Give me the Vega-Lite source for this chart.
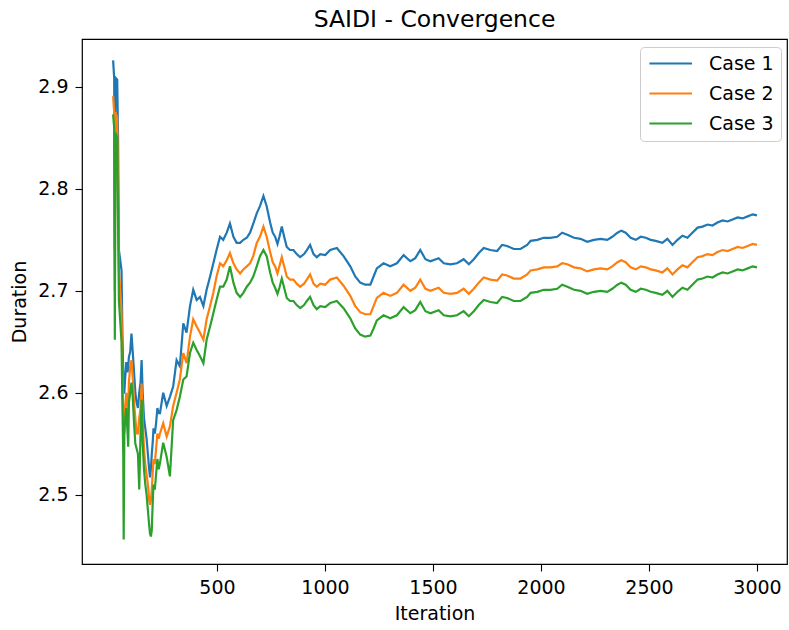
{
  "$schema": "https://vega.github.io/schema/vega-lite/v6.json",
  "width": 705,
  "height": 525,
  "autosize": {"type": "none"},
  "padding": {"left": 82, "top": 39, "right": 2, "bottom": 66},
  "background": "white",
  "config": {
    "font": "DejaVu Sans",
    "view": {"stroke": "#000000", "strokeWidth": 1.2},
    "axis": {"domain": false, "grid": false, "tickColor": "#000000", "tickSize": 7, "tickWidth": 1.1, "labelColor": "#000000", "titleColor": "#000000", "labelFontSize": 19, "titleFontSize": 19, "titleFontWeight": "normal", "labelPadding": 7, "labelFont": "DejaVu Sans", "titleFont": "DejaVu Sans"}
  },
  "title": {"text": "SAIDI - Convergence", "fontSize": 23.5, "fontWeight": "normal", "font": "DejaVu Sans", "color": "#000000", "anchor": "middle", "baseline": "alphabetic", "offset": 0, "dy": 11.2},
  "data": {
    "values": [
      {"i": 19, "Case 1": 2.926, "Case 2": 2.891, "Case 3": 2.873},
      {"i": 24, "Case 1": 2.909, "Case 2": 2.875, "Case 3": 2.860},
      {"i": 27, "Case 1": 2.740, "Case 2": 2.700, "Case 3": 2.652},
      {"i": 30, "Case 1": 2.909, "Case 2": 2.875, "Case 3": 2.855},
      {"i": 38, "Case 1": 2.907, "Case 2": 2.870, "Case 3": 2.850},
      {"i": 42, "Case 1": 2.850, "Case 2": 2.800, "Case 3": 2.770},
      {"i": 46, "Case 1": 2.740, "Case 2": 2.720, "Case 3": 2.690},
      {"i": 52, "Case 1": 2.730, "Case 2": 2.700, "Case 3": 2.670},
      {"i": 58, "Case 1": 2.720, "Case 2": 2.680, "Case 3": 2.650},
      {"i": 62, "Case 1": 2.660, "Case 2": 2.620, "Case 3": 2.590},
      {"i": 66, "Case 1": 2.620, "Case 2": 2.580, "Case 3": 2.540},
      {"i": 68, "Case 1": 2.600, "Case 2": 2.570, "Case 3": 2.456},
      {"i": 71, "Case 1": 2.600, "Case 2": 2.560, "Case 3": 2.560},
      {"i": 75, "Case 1": 2.615, "Case 2": 2.585, "Case 3": 2.575},
      {"i": 80, "Case 1": 2.630, "Case 2": 2.600, "Case 3": 2.585},
      {"i": 86, "Case 1": 2.620, "Case 2": 2.585, "Case 3": 2.560},
      {"i": 89, "Case 1": 2.625, "Case 2": 2.577, "Case 3": 2.547},
      {"i": 92, "Case 1": 2.635, "Case 2": 2.610, "Case 3": 2.590},
      {"i": 98, "Case 1": 2.640, "Case 2": 2.625, "Case 3": 2.600},
      {"i": 104, "Case 1": 2.658, "Case 2": 2.632, "Case 3": 2.610},
      {"i": 110, "Case 1": 2.640, "Case 2": 2.615, "Case 3": 2.595},
      {"i": 116, "Case 1": 2.620, "Case 2": 2.590, "Case 3": 2.570},
      {"i": 122, "Case 1": 2.600, "Case 2": 2.575, "Case 3": 2.550},
      {"i": 128, "Case 1": 2.590, "Case 2": 2.560, "Case 3": 2.545},
      {"i": 134, "Case 1": 2.585, "Case 2": 2.560, "Case 3": 2.540},
      {"i": 140, "Case 1": 2.600, "Case 2": 2.575, "Case 3": 2.505},
      {"i": 146, "Case 1": 2.610, "Case 2": 2.585, "Case 3": 2.560},
      {"i": 151, "Case 1": 2.632, "Case 2": 2.609, "Case 3": 2.593},
      {"i": 156, "Case 1": 2.600, "Case 2": 2.575, "Case 3": 2.550},
      {"i": 162, "Case 1": 2.575, "Case 2": 2.545, "Case 3": 2.525},
      {"i": 168, "Case 1": 2.565, "Case 2": 2.530, "Case 3": 2.510},
      {"i": 174, "Case 1": 2.555, "Case 2": 2.520, "Case 3": 2.500},
      {"i": 180, "Case 1": 2.540, "Case 2": 2.510, "Case 3": 2.485},
      {"i": 186, "Case 1": 2.525, "Case 2": 2.495, "Case 3": 2.470},
      {"i": 190, "Case 1": 2.517, "Case 2": 2.490, "Case 3": 2.462},
      {"i": 194, "Case 1": 2.525, "Case 2": 2.495, "Case 3": 2.459},
      {"i": 198, "Case 1": 2.540, "Case 2": 2.505, "Case 3": 2.465},
      {"i": 202, "Case 1": 2.550, "Case 2": 2.520, "Case 3": 2.490},
      {"i": 206, "Case 1": 2.565, "Case 2": 2.535, "Case 3": 2.510},
      {"i": 212, "Case 1": 2.560, "Case 2": 2.530, "Case 3": 2.505},
      {"i": 218, "Case 1": 2.570, "Case 2": 2.545, "Case 3": 2.520},
      {"i": 224, "Case 1": 2.585, "Case 2": 2.560, "Case 3": 2.535},
      {"i": 230, "Case 1": 2.580, "Case 2": 2.555, "Case 3": 2.525},
      {"i": 236, "Case 1": 2.580, "Case 2": 2.560, "Case 3": 2.531},
      {"i": 251, "Case 1": 2.600, "Case 2": 2.570, "Case 3": 2.551},
      {"i": 267, "Case 1": 2.587, "Case 2": 2.557, "Case 3": 2.537},
      {"i": 282, "Case 1": 2.596, "Case 2": 2.567, "Case 3": 2.518},
      {"i": 297, "Case 1": 2.606, "Case 2": 2.587, "Case 3": 2.573},
      {"i": 313, "Case 1": 2.632, "Case 2": 2.600, "Case 3": 2.583},
      {"i": 328, "Case 1": 2.626, "Case 2": 2.613, "Case 3": 2.596},
      {"i": 344, "Case 1": 2.668, "Case 2": 2.639, "Case 3": 2.613},
      {"i": 359, "Case 1": 2.659, "Case 2": 2.629, "Case 3": 2.616},
      {"i": 375, "Case 1": 2.685, "Case 2": 2.655, "Case 3": 2.639},
      {"i": 390, "Case 1": 2.701, "Case 2": 2.672, "Case 3": 2.649},
      {"i": 406, "Case 1": 2.691, "Case 2": 2.665, "Case 3": 2.642},
      {"i": 421, "Case 1": 2.694, "Case 2": 2.659, "Case 3": 2.636},
      {"i": 437, "Case 1": 2.685, "Case 2": 2.652, "Case 3": 2.629},
      {"i": 452, "Case 1": 2.701, "Case 2": 2.672, "Case 3": 2.652},
      {"i": 468, "Case 1": 2.714, "Case 2": 2.685, "Case 3": 2.665},
      {"i": 483, "Case 1": 2.727, "Case 2": 2.698, "Case 3": 2.678},
      {"i": 498, "Case 1": 2.740, "Case 2": 2.714, "Case 3": 2.691},
      {"i": 514, "Case 1": 2.753, "Case 2": 2.727, "Case 3": 2.704},
      {"i": 529, "Case 1": 2.750, "Case 2": 2.724, "Case 3": 2.704},
      {"i": 545, "Case 1": 2.757, "Case 2": 2.730, "Case 3": 2.711},
      {"i": 560, "Case 1": 2.766, "Case 2": 2.737, "Case 3": 2.724},
      {"i": 576, "Case 1": 2.753, "Case 2": 2.727, "Case 3": 2.708},
      {"i": 591, "Case 1": 2.747, "Case 2": 2.721, "Case 3": 2.698},
      {"i": 607, "Case 1": 2.747, "Case 2": 2.717, "Case 3": 2.694},
      {"i": 622, "Case 1": 2.750, "Case 2": 2.721, "Case 3": 2.698},
      {"i": 638, "Case 1": 2.752, "Case 2": 2.724, "Case 3": 2.704},
      {"i": 653, "Case 1": 2.757, "Case 2": 2.727, "Case 3": 2.708},
      {"i": 668, "Case 1": 2.766, "Case 2": 2.734, "Case 3": 2.714},
      {"i": 684, "Case 1": 2.776, "Case 2": 2.747, "Case 3": 2.724},
      {"i": 699, "Case 1": 2.783, "Case 2": 2.753, "Case 3": 2.734},
      {"i": 715, "Case 1": 2.793, "Case 2": 2.763, "Case 3": 2.740},
      {"i": 730, "Case 1": 2.783, "Case 2": 2.753, "Case 3": 2.734},
      {"i": 746, "Case 1": 2.767, "Case 2": 2.738, "Case 3": 2.718},
      {"i": 758, "Case 1": 2.757, "Case 2": 2.728, "Case 3": 2.708},
      {"i": 769, "Case 1": 2.753, "Case 2": 2.724, "Case 3": 2.703},
      {"i": 780, "Case 1": 2.746, "Case 2": 2.717, "Case 3": 2.697},
      {"i": 789, "Case 1": 2.753, "Case 2": 2.724, "Case 3": 2.703},
      {"i": 800, "Case 1": 2.763, "Case 2": 2.733, "Case 3": 2.712},
      {"i": 811, "Case 1": 2.753, "Case 2": 2.724, "Case 3": 2.703},
      {"i": 823, "Case 1": 2.743, "Case 2": 2.714, "Case 3": 2.693},
      {"i": 838, "Case 1": 2.740, "Case 2": 2.711, "Case 3": 2.690},
      {"i": 854, "Case 1": 2.740, "Case 2": 2.711, "Case 3": 2.690},
      {"i": 869, "Case 1": 2.736, "Case 2": 2.707, "Case 3": 2.686},
      {"i": 885, "Case 1": 2.733, "Case 2": 2.704, "Case 3": 2.683},
      {"i": 903, "Case 1": 2.736, "Case 2": 2.707, "Case 3": 2.686},
      {"i": 916, "Case 1": 2.740, "Case 2": 2.711, "Case 3": 2.690},
      {"i": 931, "Case 1": 2.745, "Case 2": 2.716, "Case 3": 2.694},
      {"i": 947, "Case 1": 2.736, "Case 2": 2.707, "Case 3": 2.686},
      {"i": 962, "Case 1": 2.733, "Case 2": 2.704, "Case 3": 2.682},
      {"i": 978, "Case 1": 2.736, "Case 2": 2.707, "Case 3": 2.685},
      {"i": 1001, "Case 1": 2.735, "Case 2": 2.706, "Case 3": 2.684},
      {"i": 1024, "Case 1": 2.740, "Case 2": 2.711, "Case 3": 2.688},
      {"i": 1055, "Case 1": 2.742, "Case 2": 2.713, "Case 3": 2.690},
      {"i": 1086, "Case 1": 2.734, "Case 2": 2.705, "Case 3": 2.683},
      {"i": 1117, "Case 1": 2.724, "Case 2": 2.695, "Case 3": 2.673},
      {"i": 1140, "Case 1": 2.714, "Case 2": 2.685, "Case 3": 2.663},
      {"i": 1163, "Case 1": 2.708, "Case 2": 2.679, "Case 3": 2.657},
      {"i": 1186, "Case 1": 2.706, "Case 2": 2.677, "Case 3": 2.655},
      {"i": 1210, "Case 1": 2.706, "Case 2": 2.677, "Case 3": 2.656},
      {"i": 1225, "Case 1": 2.714, "Case 2": 2.685, "Case 3": 2.663},
      {"i": 1240, "Case 1": 2.722, "Case 2": 2.693, "Case 3": 2.671},
      {"i": 1271, "Case 1": 2.727, "Case 2": 2.698, "Case 3": 2.676},
      {"i": 1302, "Case 1": 2.724, "Case 2": 2.695, "Case 3": 2.673},
      {"i": 1333, "Case 1": 2.727, "Case 2": 2.698, "Case 3": 2.676},
      {"i": 1364, "Case 1": 2.735, "Case 2": 2.706, "Case 3": 2.684},
      {"i": 1395, "Case 1": 2.729, "Case 2": 2.700, "Case 3": 2.678},
      {"i": 1418, "Case 1": 2.732, "Case 2": 2.703, "Case 3": 2.681},
      {"i": 1441, "Case 1": 2.740, "Case 2": 2.711, "Case 3": 2.689},
      {"i": 1465, "Case 1": 2.731, "Case 2": 2.702, "Case 3": 2.680},
      {"i": 1488, "Case 1": 2.729, "Case 2": 2.700, "Case 3": 2.678},
      {"i": 1526, "Case 1": 2.732, "Case 2": 2.703, "Case 3": 2.681},
      {"i": 1550, "Case 1": 2.727, "Case 2": 2.698, "Case 3": 2.676},
      {"i": 1581, "Case 1": 2.726, "Case 2": 2.697, "Case 3": 2.675},
      {"i": 1611, "Case 1": 2.727, "Case 2": 2.698, "Case 3": 2.676},
      {"i": 1642, "Case 1": 2.731, "Case 2": 2.702, "Case 3": 2.680},
      {"i": 1666, "Case 1": 2.726, "Case 2": 2.697, "Case 3": 2.675},
      {"i": 1689, "Case 1": 2.731, "Case 2": 2.702, "Case 3": 2.680},
      {"i": 1712, "Case 1": 2.737, "Case 2": 2.708, "Case 3": 2.686},
      {"i": 1735, "Case 1": 2.742, "Case 2": 2.713, "Case 3": 2.691},
      {"i": 1766, "Case 1": 2.740, "Case 2": 2.711, "Case 3": 2.689},
      {"i": 1797, "Case 1": 2.739, "Case 2": 2.710, "Case 3": 2.688},
      {"i": 1820, "Case 1": 2.745, "Case 2": 2.716, "Case 3": 2.694},
      {"i": 1843, "Case 1": 2.744, "Case 2": 2.715, "Case 3": 2.693},
      {"i": 1874, "Case 1": 2.741, "Case 2": 2.712, "Case 3": 2.690},
      {"i": 1905, "Case 1": 2.741, "Case 2": 2.712, "Case 3": 2.690},
      {"i": 1936, "Case 1": 2.745, "Case 2": 2.716, "Case 3": 2.694},
      {"i": 1952, "Case 1": 2.749, "Case 2": 2.720, "Case 3": 2.698},
      {"i": 1983, "Case 1": 2.750, "Case 2": 2.721, "Case 3": 2.699},
      {"i": 2013, "Case 1": 2.752, "Case 2": 2.723, "Case 3": 2.701},
      {"i": 2044, "Case 1": 2.752, "Case 2": 2.723, "Case 3": 2.701},
      {"i": 2075, "Case 1": 2.753, "Case 2": 2.724, "Case 3": 2.702},
      {"i": 2098, "Case 1": 2.757, "Case 2": 2.727, "Case 3": 2.706},
      {"i": 2122, "Case 1": 2.755, "Case 2": 2.726, "Case 3": 2.704},
      {"i": 2153, "Case 1": 2.752, "Case 2": 2.723, "Case 3": 2.701},
      {"i": 2183, "Case 1": 2.751, "Case 2": 2.722, "Case 3": 2.700},
      {"i": 2214, "Case 1": 2.748, "Case 2": 2.719, "Case 3": 2.697},
      {"i": 2245, "Case 1": 2.750, "Case 2": 2.721, "Case 3": 2.699},
      {"i": 2276, "Case 1": 2.751, "Case 2": 2.722, "Case 3": 2.700},
      {"i": 2307, "Case 1": 2.750, "Case 2": 2.721, "Case 3": 2.699},
      {"i": 2330, "Case 1": 2.753, "Case 2": 2.724, "Case 3": 2.702},
      {"i": 2354, "Case 1": 2.757, "Case 2": 2.728, "Case 3": 2.706},
      {"i": 2372, "Case 1": 2.759, "Case 2": 2.730, "Case 3": 2.708},
      {"i": 2392, "Case 1": 2.757, "Case 2": 2.728, "Case 3": 2.706},
      {"i": 2415, "Case 1": 2.752, "Case 2": 2.723, "Case 3": 2.701},
      {"i": 2439, "Case 1": 2.750, "Case 2": 2.721, "Case 3": 2.699},
      {"i": 2462, "Case 1": 2.753, "Case 2": 2.724, "Case 3": 2.702},
      {"i": 2485, "Case 1": 2.752, "Case 2": 2.723, "Case 3": 2.701},
      {"i": 2508, "Case 1": 2.750, "Case 2": 2.721, "Case 3": 2.699},
      {"i": 2531, "Case 1": 2.749, "Case 2": 2.720, "Case 3": 2.698},
      {"i": 2562, "Case 1": 2.747, "Case 2": 2.718, "Case 3": 2.696},
      {"i": 2585, "Case 1": 2.751, "Case 2": 2.722, "Case 3": 2.700},
      {"i": 2609, "Case 1": 2.745, "Case 2": 2.716, "Case 3": 2.694},
      {"i": 2632, "Case 1": 2.750, "Case 2": 2.721, "Case 3": 2.699},
      {"i": 2655, "Case 1": 2.754, "Case 2": 2.725, "Case 3": 2.703},
      {"i": 2678, "Case 1": 2.752, "Case 2": 2.723, "Case 3": 2.701},
      {"i": 2701, "Case 1": 2.757, "Case 2": 2.728, "Case 3": 2.706},
      {"i": 2725, "Case 1": 2.762, "Case 2": 2.733, "Case 3": 2.711},
      {"i": 2748, "Case 1": 2.763, "Case 2": 2.734, "Case 3": 2.712},
      {"i": 2771, "Case 1": 2.765, "Case 2": 2.736, "Case 3": 2.714},
      {"i": 2794, "Case 1": 2.764, "Case 2": 2.735, "Case 3": 2.713},
      {"i": 2817, "Case 1": 2.767, "Case 2": 2.738, "Case 3": 2.716},
      {"i": 2841, "Case 1": 2.769, "Case 2": 2.740, "Case 3": 2.718},
      {"i": 2864, "Case 1": 2.768, "Case 2": 2.739, "Case 3": 2.717},
      {"i": 2887, "Case 1": 2.770, "Case 2": 2.741, "Case 3": 2.719},
      {"i": 2910, "Case 1": 2.772, "Case 2": 2.743, "Case 3": 2.721},
      {"i": 2933, "Case 1": 2.771, "Case 2": 2.742, "Case 3": 2.720},
      {"i": 2957, "Case 1": 2.773, "Case 2": 2.744, "Case 3": 2.722},
      {"i": 2980, "Case 1": 2.775, "Case 2": 2.746, "Case 3": 2.724},
      {"i": 3000, "Case 1": 2.774, "Case 2": 2.745, "Case 3": 2.723}
    ]
  },
  "transform": [{"fold": ["Case 1", "Case 2", "Case 3"], "as": ["case", "value"]}],
  "mark": {"type": "line", "strokeWidth": 2.2, "clip": true},
  "encoding": {
    "x": {"field": "i", "type": "quantitative", "title": "Iteration",
          "scale": {"domain": [-125, 3139], "nice": false, "zero": false},
          "axis": {"values": [500, 1000, 1500, 2000, 2500, 3000], "format": "d", "titlePadding": 7}},
    "y": {"field": "value", "type": "quantitative", "title": "Duration",
          "scale": {"domain": [2.432, 2.947], "nice": false, "zero": false},
          "axis": {"values": [2.5, 2.6, 2.7, 2.8, 2.9], "format": ".1f", "titlePadding": 8}},
    "color": {"field": "case", "type": "nominal", "title": null,
              "scale": {"domain": ["Case 1", "Case 2", "Case 3"], "range": ["#1f77b4", "#ff7f0e", "#2ca02c"]},
              "legend": {"orient": "none", "legendX": 558, "legendY": 8, "symbolType": "M-1,0H5", "symbolSize": 202, "symbolStrokeWidth": 2.2, "labelFontSize": 19, "labelFont": "DejaVu Sans", "labelColor": "#000000", "labelOffset": 43, "rowPadding": 10, "padding": 7, "fillColor": "white", "strokeColor": "#cccccc", "cornerRadius": 4}}
  }
}
